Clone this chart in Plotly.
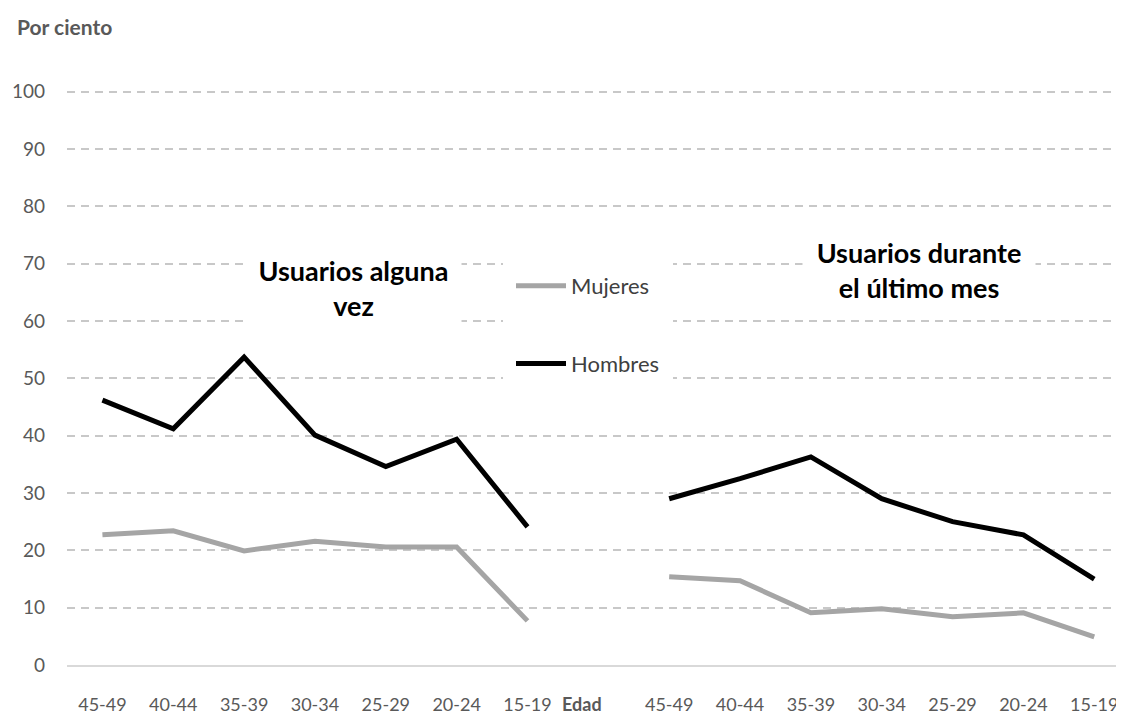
import plotly.graph_objects as go

age_groups = ["45-49", "40-44", "35-39", "30-34", "25-29", "20-24", "15-19"]
separator_label = "Edad"
women_ever = [22.7, 23.4, 19.9, 21.6, 20.6, 20.6, 7.7]
men_ever = [46.2, 41.2, 53.7, 40.1, 34.6, 39.4, 24.1]
women_month = [15.4, 14.7, 9.1, 9.8, 8.4, 9.1, 4.9]
men_month = [29.0, 32.5, 36.3, 29.0, 25.0, 22.7, 15.0]
y_ticks = [0, 10, 20, 30, 40, 50, 60, 70, 80, 90, 100]

labels = age_groups + [""] + age_groups
xpos = list(range(len(labels)))
sep_idx = len(age_groups)
women = women_ever + [None] + women_month
men = men_ever + [None] + men_month

FONT = "Lato"
TICK_COLOR = "#595959"
OFF = 8  # page body margin
FIG_W, FIG_H = 1124 - OFF, 716 - OFF
L, T, H = 67 - OFF, 86 - OFF, 579
W = FIG_W - L


def px_x(p):
    return (p - OFF - L) / W


def px_y(p):
    return (T + H - (p - OFF)) / H


fig = go.Figure()
fig.add_trace(go.Scatter(x=xpos, y=women, mode="lines", name="Mujeres",
                         legendgroup="m", connectgaps=False,
                         line=dict(color="#A5A5A5", width=5)))
fig.add_trace(go.Scatter(x=xpos, y=men, mode="lines", name="Hombres",
                         legendgroup="h", connectgaps=False,
                         line=dict(color="#000000", width=5)))

fig.update_layout(
    width=FIG_W, height=FIG_H,
    margin=dict(l=L, r=0, t=T, b=FIG_H - T - H),
    paper_bgcolor="white", plot_bgcolor="white",
    font=dict(family=FONT, color=TICK_COLOR, size=19),
    showlegend=True,
    legend=dict(x=px_x(503), y=px_y(257), xanchor="left", yanchor="top",
                bgcolor="white", bordercolor="white", borderwidth=8,
                tracegroupgap=46, itemwidth=50,
                font=dict(family=FONT, size=22, color="#404040"),
                traceorder="grouped"),
    xaxis=dict(range=[-0.5, 14.42], tickvals=xpos, ticktext=labels,
               showgrid=False, zeroline=False, showline=True,
               linecolor="#D9D9D9", linewidth=2, ticks="",
               ticklabelstandoff=22, automargin=False,
               tickfont=dict(family=FONT, size=18, color=TICK_COLOR)),
    yaxis=dict(range=[0, 101], tickvals=y_ticks, showgrid=True,
               gridcolor="#C8C8C8", gridwidth=1.5, griddash="8px,6px",
               zeroline=False, showline=False, ticks="",
               ticklabelstandoff=21, automargin=False,
               tickfont=dict(family=FONT, size=19, color=TICK_COLOR)),
)

annotations = [
    dict(text="<b>Por ciento</b>", xref="paper", yref="paper",
         x=px_x(15), y=px_y(27), xanchor="left", yanchor="middle",
         showarrow=False, font=dict(family=FONT, size=21, color=TICK_COLOR)),
    dict(text="<b>Usuarios alguna<br>vez</b>", xref="paper", yref="paper",
         x=px_x(353), y=px_y(288), xanchor="center", yanchor="middle",
         showarrow=False, bgcolor="white", width=213, height=88,
         font=dict(family=FONT, size=27, color="#000000")),
    dict(text="<b>Usuarios durante<br>el último mes</b>", xref="paper", yref="paper",
         x=px_x(919), y=px_y(270), xanchor="center", yanchor="middle",
         showarrow=False, bgcolor="white", width=230, height=66,
         font=dict(family=FONT, size=27, color="#000000")),
    dict(text="<b>" + separator_label + "</b>", xref="x", yref="paper",
         x=sep_idx, y=0, xanchor="center", yanchor="middle", yshift=-39, xshift=-16,
         showarrow=False, font=dict(family=FONT, size=18, color=TICK_COLOR)),
]
fig.update_layout(annotations=annotations)

fig.write_html("out.html")
